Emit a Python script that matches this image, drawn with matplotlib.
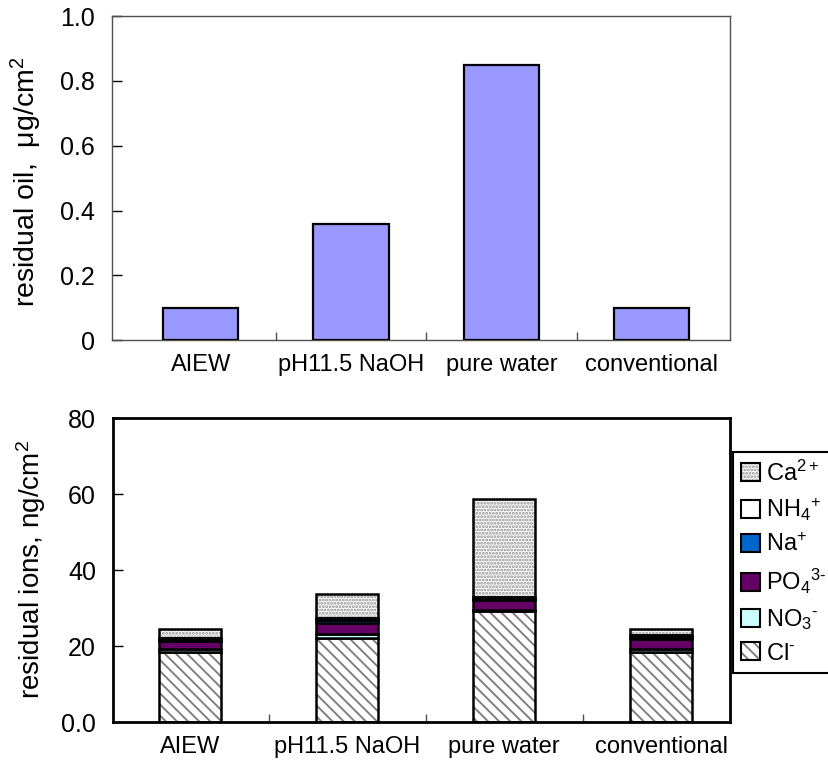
import matplotlib
matplotlib.use('Agg')
import matplotlib.pyplot as plt
from matplotlib.patches import Patch
from matplotlib.legend_handler import HandlerTuple

plt.rcParams['font.family'] = ['Liberation Sans', 'DejaVu Sans']
plt.rcParams['mathtext.fontset'] = 'custom'
plt.rcParams['mathtext.rm'] = 'Liberation Sans'
plt.rcParams['mathtext.it'] = 'Liberation Sans:italic'
plt.rcParams['hatch.linewidth'] = 1.4

# data
categories = ['AIEW', 'pH11.5 NaOH', 'pure water', 'conventional']
oil = [0.10, 0.36, 0.85, 0.10]
oil_ticks = [0, 0.2, 0.4, 0.6, 0.8, 1.0]
oil_tick_labels = ['0', '0.2', '0.4', '0.6', '0.8', '1.0']

ion_names = ['Cl$^{\u2010}$', 'NO$_3$$^{\u2010}$', 'PO$_4$$^{3\u2010}$', 'Na$^{+}$', 'NH$_4$$^{+}$', 'Ca$^{2+}$']
cl = [18.5, 22.1, 29.2, 18.5]
no3 = [0.6, 1.0, 0.3, 0.8]
po4 = [2.1, 2.9, 2.5, 2.5]
na = [0.4, 0.9, 0.4, 0.6]
nh4 = [0.4, 0.5, 0.4, 0.6]
ca = [2.5, 6.2, 25.9, 1.5]
ion_ticks = [0, 20, 40, 60, 80]
ion_tick_labels = ['0.0', '20', '40', '60', '80']

# styles per ion (bottom to top)
ion_styles = [
    dict(facecolor='white', hatch='\\\\\\', hatchcolor='#808080'),
    dict(facecolor='#CCFFFF'),
    dict(facecolor='#660066'),
    dict(facecolor='#0066CC'),
    dict(facecolor='white'),
    dict(facecolor='white', hatch='.....', hatchcolor='#909090'),
]

fig = plt.figure(figsize=(8.29, 7.61), dpi=100)
ax1 = fig.add_axes([0.135, 0.553, 0.7455, 0.4258])
ax2 = fig.add_axes([0.136, 0.0512, 0.744, 0.3995])

x = list(range(len(categories)))

# top chart
ax1.bar(x, oil, width=0.5, color='#9999FF', edgecolor='black', linewidth=1.6, zorder=3)
ax1.set_xlim(-0.59, 3.52)
ax1.set_ylim(0, 1.0)
ax1.set_yticks(oil_ticks)
ax1.set_yticklabels(oil_tick_labels)
for sp in ax1.spines.values():
    sp.set_color('#505050')
    sp.set_linewidth(1.0)
ax1.set_ylabel('residual oil,  \u03bcg/cm$^2$', fontsize=20.5, va='center')
ax1.yaxis.set_label_coords(-0.138, 0.49)

# bottom chart
bottom = [0.0] * len(categories)
handles = []
for vals, st, name in zip([cl, no3, po4, na, nh4, ca], ion_styles, ion_names):
    if 'hatch' in st:
        ax2.bar(x, vals, width=0.395, bottom=bottom, facecolor=st['facecolor'],
                hatch=st['hatch'], edgecolor=st['hatchcolor'], linewidth=0, zorder=2)
        ax2.bar(x, vals, width=0.395, bottom=bottom, fill=False,
                edgecolor='black', linewidth=1.8, zorder=3)
        h = (Patch(facecolor=st['facecolor'], hatch=st['hatch'], edgecolor=st['hatchcolor'], linewidth=0),
             Patch(fill=False, edgecolor='black', linewidth=1.5))
    else:
        ax2.bar(x, vals, width=0.395, bottom=bottom, facecolor=st['facecolor'],
                edgecolor='black', linewidth=1.8, zorder=3)
        h = Patch(facecolor=st['facecolor'], edgecolor='black', linewidth=1.5)
    handles.append(h)
    bottom = [b + v for b, v in zip(bottom, vals)]

ax2.set_xlim(-0.494, 3.436)
ax2.set_ylim(0, 80)
ax2.set_yticks(ion_ticks)
ax2.set_yticklabels(ion_tick_labels)
for sp in ax2.spines.values():
    sp.set_color('black')
    sp.set_linewidth(2.0)
ax2.set_ylabel('residual ions, ng/cm$^2$', fontsize=20, va='center')
ax2.yaxis.set_label_coords(-0.133, 0.5)

for ax in (ax1, ax2):
    ax.set_xticks([0.5, 1.5, 2.5])
    ax.set_xticklabels([])
    ax.set_xticks(x, minor=True)
    ax.set_xticklabels(categories, minor=True, fontsize=17)
    ax.tick_params(axis='x', which='major', direction='in', length=6, width=1, color='#505050')
    ax.tick_params(axis='x', which='minor', length=0, pad=10)
    ax.tick_params(axis='y', direction='in', length=7, width=1, labelsize=18, pad=12)

leg = fig.legend(handles[::-1], ion_names[::-1], loc='upper left',
                 bbox_to_anchor=(0.884, 0.406), fontsize=17, frameon=True,
                 fancybox=False, framealpha=1, edgecolor='black',
                 handlelength=0.8, handleheight=0.8, handletextpad=0.25,
                 labelspacing=0.45, borderpad=0.35, borderaxespad=0,
                 handler_map={tuple: HandlerTuple(ndivide=1, pad=0)})
leg.get_frame().set_linewidth(1.5)

fig.savefig('out.png', dpi=100)
